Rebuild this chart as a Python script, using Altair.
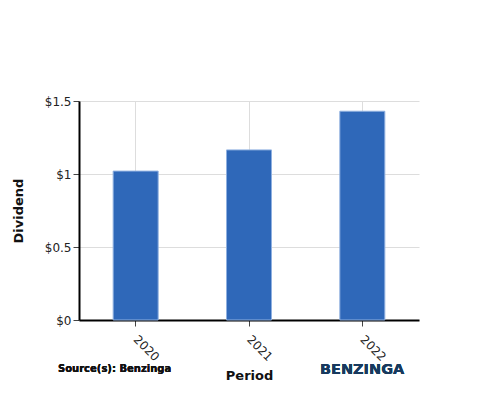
import altair as alt
import pandas as pd

periods = ["2020", "2021", "2022"]
dividends = [1.02, 1.165, 1.43]

df = pd.DataFrame({"Period": periods, "Dividend": dividends})

W, H = 340, 219
FONT = "DejaVu Sans"

bars = alt.Chart(df).mark_bar(size=45, color="#2f68b9", stroke="#8fb0e0", strokeWidth=1).encode(
    x=alt.X("Period:N", sort=periods,
            scale=alt.Scale(paddingInner=0, paddingOuter=0),
            axis=alt.Axis(title="Period", labelAngle=45, labelAlign="left", labelBaseline="middle",
                          labelFontSize=12, labelColor="#222", titleFontSize=13, titleFontWeight="bold",
                          titleColor="#111", titlePadding=7, domainColor="black", domainWidth=2,
                          ticks=True, tickColor="#444", tickSize=6, tickWidth=1,
                          grid=True, gridColor="#dddddd", labelPadding=11)),
    y=alt.Y("Dividend:Q", scale=alt.Scale(domain=[0, 1.5]),
            axis=alt.Axis(title="Dividend", values=[0, 0.5, 1, 1.5], labelExpr='"$" + datum.value',
                          labelFontSize=12, labelColor="#222", titleFontSize=13, titleFontWeight="bold",
                          titleColor="#111", titlePadding=19, domainColor="black", domainWidth=2,
                          ticks=True, tickColor="#444", tickSize=6, tickWidth=1, labelPadding=2,
                          gridColor="#dddddd")),
)

src = alt.Chart(df).mark_text(text="Source(s): Benzinga", align="left", baseline="middle", font=FONT,
                              fontSize=10, fontWeight="bold", color="#111").encode(
    x=alt.value(-21), y=alt.value(268))

logo = alt.Chart(df).mark_text(text="BENZINGA", align="left", baseline="middle", font=FONT,
                               fontSize=14.5, fontWeight="bold", color="#173a5e").encode(
    x=alt.value(241), y=alt.value(269))

chart = alt.layer(bars, src, logo).properties(
    width=W, height=H,
    autosize=alt.AutoSizeParams(type="none"),
    padding={"left": 71, "top": 93, "right": 73, "bottom": 80},
).configure_view(stroke=None).configure_axis(labelFont=FONT, titleFont=FONT)

chart.save("out.html", embed_options={"renderer": "svg", "actions": False})
